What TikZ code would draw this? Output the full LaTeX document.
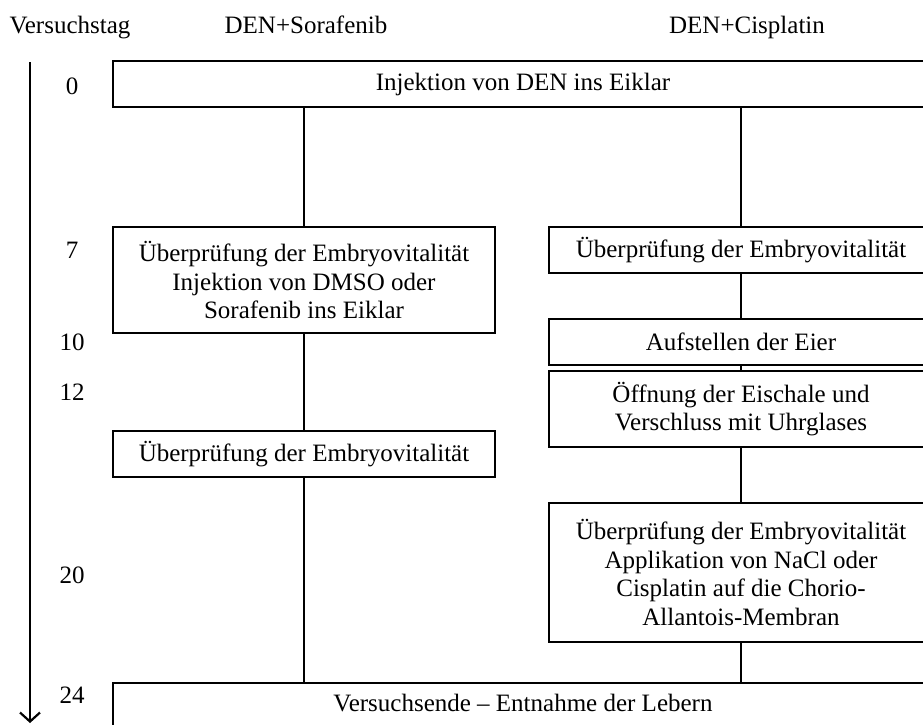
\documentclass[tikz,border=0pt]{standalone}
\usepackage{fontspec}
\setmainfont{Liberation Serif}
\usetikzlibrary{arrows.meta}
\tikzset{
  every node/.style={font=\fontsize{25}{28.5}\selectfont},
  stepbox/.style={draw, line width=1.7pt, inner sep=0pt, align=center, anchor=center},
  conn/.style={line width=1.2pt},
  lbl/.style={inner sep=0pt, anchor=base},
}
\begin{document}
\begin{tikzpicture}[x=1pt, y=-1pt]
\useasboundingbox (0,0) rectangle (923,724);
\clip (0,0) rectangle (923,724);
% headers
\node[lbl] (hV) at (70,33) {Versuchstag};
\node[lbl] (hS) at (306,33) {DEN+Sorafenib};
\node[lbl] (hC) at (747,33) {DEN+Cisplatin};
% day labels
\node[lbl] (d0) at (72,94) {0};
\node[lbl] (d7) at (72,258) {7};
\node[lbl] (d10) at (72,350) {10};
\node[lbl] (d12) at (72,400) {12};
\node[lbl] (d20) at (72,583) {20};
\node[lbl] (d24) at (72,703) {24};
% time arrow
\coordinate (atop) at (30,62);
\coordinate (abot) at (30,723);
\draw[line width=2.8pt, -{Straight Barb[length=9pt, width=20pt, line width=2.2pt]}] (atop) -- (abot);
% boxes
\node[stepbox, minimum width=820pt, minimum height=46pt] (top) at (523,84) {Injektion von DEN ins Eiklar};
\node[stepbox, minimum width=382pt, minimum height=106pt] (l1) at (304,280) {Überprüfung der Embryovitalität\\Injektion von DMSO oder\\Sorafenib ins Eiklar};
\node[stepbox, minimum width=382pt, minimum height=46pt] (l2) at (304,454) {Überprüfung der Embryovitalität};
\node[stepbox, minimum width=384pt, minimum height=46pt] (r1) at (741,250) {Überprüfung der Embryovitalität};
\node[stepbox, minimum width=384pt, minimum height=46pt] (r2) at (741,342) {Aufstellen der Eier};
\node[stepbox, minimum width=384pt, minimum height=76pt] (r3) at (741,409) {Öffnung der Eischale und\\Verschluss mit Uhrglases};
\node[stepbox, minimum width=384pt, minimum height=139pt] (r4) at (741,572.5) {Überprüfung der Embryovitalität\\Applikation von NaCl oder\\Cisplatin auf die Chorio-\\Allantois-Membran};
\node[stepbox, minimum width=820pt, minimum height=62pt] (bot) at (523,714) {};
\node[lbl] (botT) at (523,711) {Versuchsende – Entnahme der Lebern};
% connectors left
\draw[conn] (l1.north |- top.south) -- (l1.north);
\draw[conn] (l1.south) -- (l2.north);
\draw[conn] (l2.south) -- (l2.south |- bot.north);
% connectors right
\draw[conn] (r1.north |- top.south) -- (r1.north);
\draw[conn] (r1.south) -- (r2.north);
\draw[conn] (r2.south) -- (r3.north);
\draw[conn] (r3.south) -- (r4.north);
\draw[conn] (r4.south) -- (r4.south |- bot.north);
\end{tikzpicture}
\end{document}
